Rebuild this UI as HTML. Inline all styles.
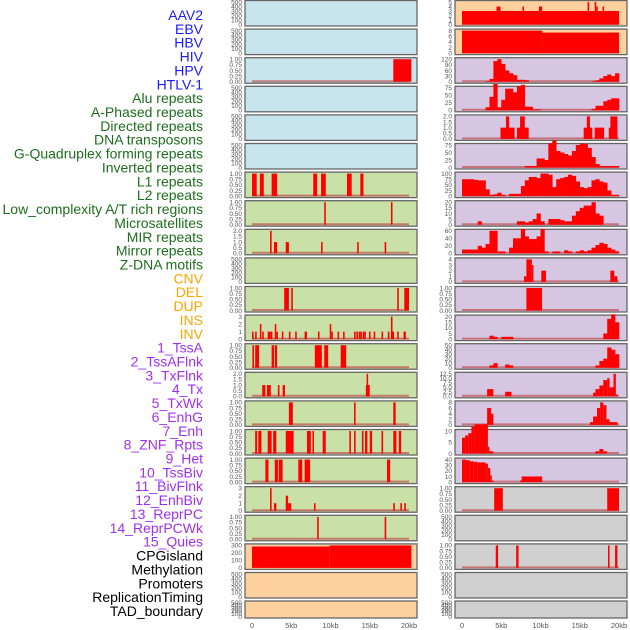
<!DOCTYPE html>
<html><head><meta charset="utf-8">
<style>
html,body{margin:0;padding:0;background:#fff;width:630px;height:630px;overflow:hidden}
svg{display:block}
text{font-family:"Liberation Sans",sans-serif}
</style></head>
<body>
<svg id="chart" width="630" height="630" viewBox="0 0 630 630"></svg>
<script>
// ---- data ----
const labelNames = ["AAV2","EBV","HBV","HIV","HPV","HTLV-1","Alu repeats","A-Phased repeats","Directed repeats","DNA transposons","G-Quadruplex forming repeats","Inverted repeats","L1 repeats","L2 repeats","Low_complexity A/T rich regions","Microsatellites","MIR repeats","Mirror repeats","Z-DNA motifs","CNV","DEL","DUP","INS","INV","1_TssA","2_TssAFlnk","3_TxFlnk","4_Tx","5_TxWk","6_EnhG","7_Enh","8_ZNF_Rpts","9_Het","10_TssBiv","11_BivFlnk","12_EnhBiv","13_ReprPC","14_ReprPCWk","15_Quies","CPGisland","Methylation","Promoters","ReplicationTiming","TAD_boundary"];
const labelGroups = [6,13,5,15,5];
const xTicks = [0,5,10,15,20];
const xTickLabels = ["0","5kb","10kb","15kb","20kb"];

// left column: segments [startKb, endKb, value]
const leftTicks = [
 [0,100,200,300,400,500],[0,100,200,300,400,500],[0,0.25,0.5,0.75,1],[0,100,200,300,400,500],[0,100,200,300,400,500],[0,100,200,300,400,500],
 [0,0.25,0.5,0.75,1],[0,0.25,0.5,0.75,1],[0,0.5,1,1.5,2],[0,100,200,300,400,500],[0,0.25,0.5,0.75,1],[0,1,2,3],
 [0,0.25,0.5,0.75,1],[0,0.5,1,1.5,2],[0,0.25,0.5,0.75,1],[0,0.25,0.5,0.75,1],[0,0.25,0.5,0.75,1],[0,1,2,3],[0,0.25,0.5,0.75,1],
 [0,100,200,300],[0,100,200,300,400,500],[0,100,200,300,400,500]
];
const leftSegs = [
 [],[],[[18,20.3,1]],[],[],[],
 [[0,0.6,1],[1,1.5,1],[2.5,3.2,1],[7.8,8.3,1],[8.8,9.4,1],[12.1,12.7,1],[13.8,14.2,1]],
 [[9.2,9.4,1],[17.7,17.9,1]],
 [[2.3,2.5,2],[2.8,3.2,1],[4.3,4.7,1],[8.8,9,1],[13.4,13.6,1],[16.9,17.1,1]],
 [],
 [[4.1,4.7,1],[5,5.2,1],[18.5,18.7,1],[19.4,20,1]],
 [[0,0.2,1],[0.4,0.6,1],[1,1.2,2],[1.3,1.5,1],[2,2.4,1],[2.4,2.6,1],[2.9,3.1,2],[3.1,3.3,1],[3.8,4,1],[4.7,4.9,1],[5.5,5.7,1],[6.7,7,1],[8.4,8.6,1],[9.9,10.1,2],[10.1,10.3,1],[10.9,11.1,1],[11.6,11.8,1],[13,13.2,1],[13.3,13.5,1],[13.6,13.8,1],[13.8,14,1],[14.1,14.3,1],[14.3,14.5,1],[14.9,15.1,1],[15.5,15.7,1],[16.5,16.7,1],[17.3,17.5,1],[17.7,17.9,3],[17.9,18.1,1],[18.5,18.7,1],[19.3,19.6,1]],
 [[0.05,0.25,1],[0.4,0.9,1],[2.5,2.8,1],[2.9,3.2,1],[8,8.9,1],[9.2,9.7,1],[11.3,12,1]],
 [[1.3,1.7,1],[1.9,2.4,1],[3.3,3.5,1],[3.9,4.2,1],[14.5,15,1],[14.6,14.7,2]],
 [[4.7,5.2,1],[13,13.2,1],[18,18.3,1]],
 [[0.4,0.65,1],[0.8,1.2,1],[2,2.5,1],[2.7,3.1,1],[4.3,5.3,1],[7,7.5,1],[7.7,7.9,1],[9,9.4,1],[12.4,12.6,1],[13,13.2,1],[14,14.2,1],[14.4,14.7,1],[15,15.3,1],[16.5,16.7,1],[18,18.4,1],[18.7,19,1]],
 [[1.7,2.1,1],[2.9,3.3,1],[3.4,3.9,1],[5.9,6.4,1],[6.7,7.4,1],[17.2,17.6,1]],
 [[2.3,2.5,3],[2.8,3.1,1],[4.3,4.6,2],[4.6,5,1],[7.9,8.1,1],[18,18.2,1],[18.9,19.1,1],[19.4,19.6,1]],
 [[8.3,8.5,1],[16.9,17.1,1]],
 [[0,9.9,285],[9.9,20.3,300]],
 [],[]
];
const leftColors = ["#c8e4ec","#c8e4ec","#c8e4ec","#c8e4ec","#c8e4ec","#c8e4ec","#c9e1a6","#c9e1a6","#c9e1a6","#c9e1a6","#c9e1a6","#c9e1a6","#c9e1a6","#c9e1a6","#c9e1a6","#c9e1a6","#c9e1a6","#c9e1a6","#c9e1a6","#fdd09e","#fdd09e","#fdd09e"];

// right column: binned profiles (0.5kb bins) or segments
const hivBins = [0,0,0,0,0,0,3,15,110,120,95,60,45,35,10,10,8,0,0,0,0,0,0,0,0,0,0,0,0,0,0,0,0,3,8,18,30,38,30,45];
const hpvBins = [0,0,0,0,0,0,10,45,88,10,35,72,72,60,80,85,12,12,3,3,0,0,0,0,0,0,0,0,0,0,0,0,0,5,15,15,30,35,40,40];
const gquadBins = [0,0,0,0,0,0,0,0,0,0,0,0,0,0,0,0,5,5,5,30,30,25,80,90,55,50,45,40,55,75,80,78,65,35,12,5,5,5,5,5];
const l1Bins = [75,75,75,72,70,70,30,5,8,15,5,0,10,10,10,45,70,85,85,80,100,100,95,40,75,80,85,95,90,65,40,35,40,70,75,65,60,25,5,5];
const l2Bins = [0,0,0,0,3,0,0,0,0,0,0,0,0,0,3,3,2,3,5,10,3,0,5,5,5,4,3,3,8,12,15,17,17,20,10,8,0,0,0,0];
const lowcBins = [10,10,10,10,20,15,25,60,60,5,5,0,15,40,40,65,45,38,38,45,65,5,0,5,5,0,8,5,0,5,8,5,8,15,22,28,25,15,10,5];
const insBins = [0,0,0,0,0,0,0,3,2,0,2,2,2,0,0,0,0,0,0,0,0,0,0,0,0,0,0,0,0,0,0,0,0,0,0,0,5,18,22,15];
const tssaBins = [0,0,0,0,0,0,0,5,10,0,0,7,5,0,0,0,0,0,0,0,0,0,0,0,0,0,0,0,0,0,0,0,0,0,5,15,20,45,40,30];
const rightTicks = [
 [0,1,2,3,4,5],[0,2,4,6,8],[0,30,60,90,120],[0,25,50,75],[0,0.5,1,1.5,2],[0,25,50,75],
 [0,25,50,75,100],[0,5,10,15,20],[0,20,40,60],[0,1,2,3,4],[0,0.25,0.5,0.75,1],[0,5,10,15,20],
 [0,10,20,30,40,50],[0,2.5,5,7.5,10,12.5],[0,2,4,6,8],[0,5,10],[0,10,20,30,40],[0,0.25,0.5,0.75,1],
 [0,100,200,300,400,500],[0,0.25,0.5,0.75,1],[0,100,200,300,400,500],[0,100,200,300,400,500]
];
const rightBins = [null,null,hivBins,hpvBins,null,gquadBins,l1Bins,l2Bins,lowcBins,null,null,insBins,tssaBins,null,null,null,null,null,null,null,null,null];
const rightSegs = [
 [[0,20,3],[4.4,4.9,4],[7.7,7.9,4],[9.8,10.2,4],[16,16.2,5],[16.9,17.1,5],[17.1,17.3,4],[17.9,18.1,4]],
 [[0,10.2,8],[10.2,20,7.3]],
 [],[],
 [[4.9,6.7,1],[5.6,6,2],[7,8.5,1],[7.4,8,2],[15.5,16.6,1],[15.9,16.3,2],[16.9,18.1,1],[18.7,19.8,1],[18.9,19.8,2]],
 [],[],[],[],
 [[7.9,8.2,1],[8.2,8.9,4],[8.9,9.1,3],[10.1,10.7,2],[18.9,19.4,2],[19.4,19.8,1]],
 [[8.2,10.2,1]],
 [],[],
 [[3.2,4,4],[5.5,6.3,2.5],[16.7,17,2],[17,17.5,4],[17.5,18,6],[18,18.5,9],[18.5,18.8,10],[18.8,19.3,5],[19.3,19.6,12.5],[19.6,19.8,1]],
 [[3.2,3.7,6],[3.7,4,4],[16.3,16.7,1],[16.7,17.2,3],[17.2,17.6,6],[17.6,18,8],[18,18.4,7],[18.4,18.8,2],[18.8,19.8,1]],
 [[0,0.4,7],[0.4,0.8,8],[0.8,1.2,9],[1.2,1.6,12],[1.6,3.3,13],[3.3,3.5,3],[3.5,4,1],[17,17.5,1],[17.5,18,2],[18,18.5,1]],
 [[0,0.5,40],[0.5,1,39],[1,1.5,37],[1.5,2,36],[2,3,35],[3,3.3,33],[3.3,3.6,25],[3.6,3.8,12],[3.8,4,3],[7.4,7.6,3],[7.6,10.2,10]],
 [[4.1,5.2,1],[18.5,20,1]],
 [],
 [[4.3,4.6,1],[6.9,7.2,1],[18.6,18.8,1],[19.5,19.8,1]],
 [],[]
];
const rightColors = ["#fdd09e","#fdd09e","#d6c6e2","#d6c6e2","#d6c6e2","#d6c6e2","#d6c6e2","#d6c6e2","#d6c6e2","#d6c6e2","#d6c6e2","#d6c6e2","#d6c6e2","#d6c6e2","#d6c6e2","#d6c6e2","#d6c6e2","#d0d0d0","#d0d0d0","#d0d0d0","#d0d0d0","#d0d0d0"];

// ---- drawing ----
const NS = "http://www.w3.org/2000/svg";
const svg = document.getElementById("chart");
function mk(tag, attrs, parent){ const e=document.createElementNS(NS,tag); for(const k in attrs) e.setAttribute(k,attrs[k]); (parent||svg).appendChild(e); return e; }

// labels
const groupColors = ["#1a1aff","#1e6e1e","#ffa500","#a030f0","#000000"];
let gi=0, cnt=0;
labelNames.forEach((name,i)=>{
  if(cnt>=labelGroups[gi]){gi++;cnt=0;}
  cnt++;
  const t = mk("text",{x:203,y:15+i*13.86+5,"text-anchor":"end","font-size":"14",fill:groupColors[gi]});
  t.textContent = name;
  
  
});

function rowTop(i){ return i<21 ? 0.5+i*28.6 : 601; }
function rowH(i){ return i<21 ? 25.5 : 17; }

function fmt(v, ticks){
  const mx = ticks[ticks.length-1];
  if(mx===1) return v.toFixed(2);
  if(ticks.some(t=>t%1!==0)) return v.toFixed(1);
  return String(v);
}

function drawPanel(col, i, ticks, segs, bins, color){
  const bx = col===0 ? 245 : 455;
  const x0 = col===0 ? 252 : 462;
  const xs = kb => x0 + kb*157/20;
  const top = rowTop(i), h = rowH(i);
  const ymax = ticks[ticks.length-1];
  const yb = top+h-1.5, yt = top+1.5;
  const ys = v => yb - (v/ymax)*(yb-yt);
  const g = mk("g",{});
  
  
  mk("rect",{x:bx,y:top,width:172,height:h,fill:color,stroke:"#666","stroke-width":"1.3"},g);
  const hasData = segs.length>0 || bins;
  if(hasData && !(col===0 && i===19)){
    mk("line",{x1:xs(0),x2:xs(20),y1:yb-0.5,y2:yb-0.5,stroke:"#c05050","stroke-width":"2","stroke-opacity":"0.7"},g);
  }
  segs.forEach(s=>{
    const r = mk("rect",{x:xs(s[0]),y:ys(s[2]),width:Math.max(1.5,xs(s[1])-xs(s[0])),height:yb-ys(s[2]),fill:"#ff0000"},g);
    
    
  });
  if(bins){
    bins.forEach((v,k)=>{
      if(v<=0) return;
      const r = mk("rect",{x:xs(k*0.5),y:ys(v),width:xs(0.5)-xs(0)+0.3,height:yb-ys(v),fill:"#ff0000"},g);
      
      
    });
  }
  ticks.forEach(t=>{
    const tt = mk("text",{x:bx-3,y:ys(t)+2.3,"text-anchor":"end","font-size":"6.5",fill:"#555"},g);
    tt.textContent = fmt(t,ticks);
  });
}

for(let i=0;i<22;i++){
  drawPanel(0,i,leftTicks[i],leftSegs[i],null,leftColors[i]);
  drawPanel(1,i,rightTicks[i],rightSegs[i],rightBins[i],rightColors[i]);
}
// x axes
[252,462].forEach((x0,c)=>{
  xTicks.forEach((t,k)=>{
    const tx = mk("text",{x:x0+t*157/20,y:628,"text-anchor":"middle","font-size":"7.5",fill:"#555"});
    tx.textContent = xTickLabels[k];
    
    
  });
});
</script>
</body></html>
